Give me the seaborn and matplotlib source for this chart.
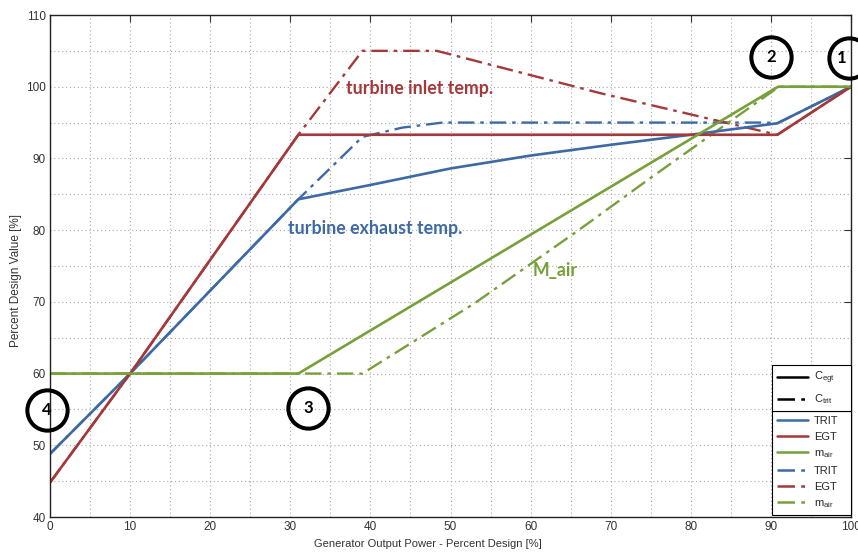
import matplotlib
matplotlib.use("Agg")
import matplotlib.pyplot as plt
import seaborn as sns
from matplotlib.lines import Line2D
from matplotlib.ticker import MultipleLocator

# Colours
BLUE = "#3d6aa5"
RED = "#a3393b"
GREEN = "#77a03a"
DASHDOT = (0, (7, 2.5, 1.5, 2.5))

sns.set_theme(style="white")
plt.rcParams["font.family"] = ["Liberation Sans Narrow", "Liberation Sans", "DejaVu Sans"]

# Data: solid lines (C_egt control)
trit_x = [0, 10, 31, 40, 50, 60, 70, 80, 90.8, 100]
trit_y = [48.8, 60, 84.3, 86.3, 88.6, 90.4, 91.9, 93.3, 94.9, 100]
egt_x = [0, 10, 31, 90.8, 100]
egt_y = [44.8, 60, 93.3, 93.3, 100]
mair_x = [0, 31, 90.9, 100]
mair_y = [60, 60, 100, 100]

# Data: dash-dot lines (C_trit control)
trit_dd_x = [0, 10, 31, 39, 44, 49, 89.5, 90.8, 100]
trit_dd_y = [48.8, 60, 84.3, 93.0, 94.3, 95.0, 95.0, 94.9, 100]
egt_dd_x = [0, 10, 31, 39, 48.3, 68.7, 90.8, 100]
egt_dd_y = [44.8, 60, 93.3, 105, 105, 99.1, 93.3, 100]
mair_dd_x = [0, 39, 45, 53, 66, 75, 91, 100]
mair_dd_y = [60, 60, 64.2, 69.8, 80, 87.3, 100, 100]

# Operating points (circled numbers)
point_labels = ["1", "2", "3", "4"]
point_x = [99.8, 90.0, 32.2, -0.4]
point_y = [104.0, 104.2, 55.2, 54.9]
label_dx = [-1.0, 0, 0, 0]


fig = plt.figure(figsize=(8.58, 5.54), dpi=100)
ax = fig.add_axes([50 / 858, 37 / 554, 801 / 858, 502 / 554])

solid = [(trit_x, trit_y, BLUE), (egt_x, egt_y, RED), (mair_x, mair_y, GREEN)]
dashed = [(trit_dd_x, trit_dd_y, BLUE), (egt_dd_x, egt_dd_y, RED), (mair_dd_x, mair_dd_y, GREEN)]

for xs, ys, c in dashed:
    sns.lineplot(x=xs, y=ys, sort=False, estimator=None, color=c, lw=1.7,
                 linestyle=DASHDOT, ax=ax)
for xs, ys, c in solid:
    sns.lineplot(x=xs, y=ys, sort=False, estimator=None, color=c, lw=1.9, ax=ax)

ax.set_xlim(0, 100)
ax.set_ylim(40, 110)
ax.xaxis.set_major_locator(MultipleLocator(10))
ax.yaxis.set_major_locator(MultipleLocator(10))
ax.xaxis.set_minor_locator(MultipleLocator(5))
ax.yaxis.set_minor_locator(MultipleLocator(5))
ax.grid(True, which="both", linestyle=(0, (1, 2.5)), color="#a8a8a8", lw=0.8)
ax.tick_params(which="major", direction="in", length=5, width=0.8, top=True, right=True,
               labelsize=8.5, colors="#333333", pad=3)
ax.tick_params(which="minor", length=0)
for s in ax.spines.values():
    s.set_color("#222222")
    s.set_linewidth(1.0)

ax.set_xlabel("Generator Output Power - Percent Design [%]", fontsize=8, color="#333333", labelpad=4)
ax.set_ylabel("Percent Design Value [%]", fontsize=8.5, color="#333333", labelpad=3)
ax.xaxis.label.set_x(0.472)
ax.yaxis.label.set_y(0.472)

# annotations
ann_font = ["Lato", "DejaVu Sans"]
ax.text(36.9, 99.8, "turbine inlet temp.", color=RED, fontsize=12.8, fontweight="bold", family=ann_font,
        va="center", ha="left")
ax.text(29.7, 80.2, "turbine exhaust temp.", color=BLUE, fontsize=12.8, fontweight="bold", family=ann_font,
        va="center", ha="left")
ax.text(60.2, 74.4, "M_air", color=GREEN, fontsize=12.8, fontweight="bold", family=ann_font,
        va="center", ha="left")

# circled operating points
for lab, px, py, dx in zip(point_labels, point_x, point_y, label_dx):
    ax.plot(px, py, marker="o", ms=29, mfc="none", mec="black", mew=2.9, clip_on=False, zorder=5)
    ax.text(px + dx, py, lab, fontsize=12, fontweight="bold", family=ann_font, color="black",
            ha="center", va="center", clip_on=False, zorder=6)

# legends
h_ctrl = [Line2D([], [], color="black", lw=1.8),
          Line2D([], [], color="black", lw=1.8, linestyle=DASHDOT)]
l_ctrl = ["C$_{\\mathregular{egt}}$", "C$_{\\mathregular{trit}}$"]
h_vars = [Line2D([], [], color=BLUE, lw=1.8), Line2D([], [], color=RED, lw=1.8),
          Line2D([], [], color=GREEN, lw=1.8),
          Line2D([], [], color=BLUE, lw=1.8, linestyle=DASHDOT),
          Line2D([], [], color=RED, lw=1.8, linestyle=DASHDOT),
          Line2D([], [], color=GREEN, lw=1.8, linestyle=DASHDOT)]
l_vars = ["TRIT", "EGT", "m$_{\\mathregular{air}}$", "TRIT", "EGT", "m$_{\\mathregular{air}}$"]

leg_kw = dict(fontsize=8, frameon=True, fancybox=False, edgecolor="black", framealpha=1,
              handlelength=2.8, handletextpad=0.5, borderpad=0.45, labelspacing=0.55,
              borderaxespad=0, mode="expand")
leg2 = ax.legend(h_vars, l_vars, loc="lower left", bbox_to_anchor=(0.9014, 0.004, 0.0986, 0.1), **leg_kw)
leg2.get_frame().set_linewidth(0.8)
ax.add_artist(leg2)

fig.canvas.draw()
top = ax.transAxes.inverted().transform(leg2.get_window_extent().corners()[1])[1]
leg1 = ax.legend(h_ctrl, l_ctrl, loc="lower left", bbox_to_anchor=(0.9014, top - 0.001, 0.0986, 0.1), **leg_kw)
leg1.get_frame().set_linewidth(0.8)

fig.savefig("out.png", dpi=100)
